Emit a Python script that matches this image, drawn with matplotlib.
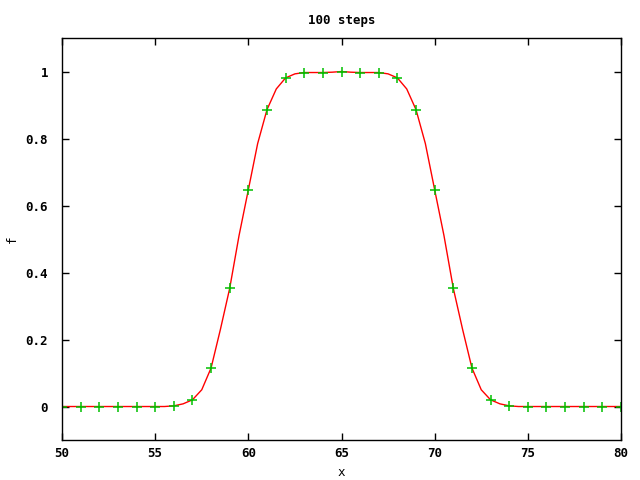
import matplotlib
matplotlib.use("Agg")
import matplotlib.pyplot as plt

# red curve at half steps
x_line = [50, 50.5, 51, 51.5, 52, 52.5, 53, 53.5, 54, 54.5, 55, 55.5,
          56, 56.5, 57, 57.5, 58, 58.5, 59, 59.5, 60, 60.5, 61, 61.5,
          62, 62.5, 63, 63.5, 64, 64.5, 65, 65.5, 66, 66.5, 67, 67.5,
          68, 68.5, 69, 69.5, 70, 70.5, 71, 71.5, 72, 72.5, 73, 73.5,
          74, 74.5, 75, 75.5, 76, 76.5, 77, 77.5, 78, 78.5, 79, 79.5, 80]
f_line = [0, 0, 0, 0, 0, 0, 0, 0, 0, 0, 0, 0,
          0.002, 0.008, 0.02, 0.05, 0.115, 0.23, 0.353, 0.51, 0.647, 0.785, 0.886, 0.948,
          0.981, 0.993, 0.997, 0.997, 0.997, 0.998, 1.0, 0.998, 0.997, 0.997, 0.997, 0.993,
          0.981, 0.948, 0.886, 0.785, 0.647, 0.51, 0.353, 0.23, 0.115, 0.05, 0.02, 0.008,
          0.002, 0, 0, 0, 0, 0, 0, 0, 0, 0, 0, 0, 0]

# green points at whole x
x_pts = list(range(50, 81))
f_pts = [0, 0, 0, 0, 0, 0, 0.002, 0.02, 0.115, 0.353, 0.647, 0.886, 0.981, 0.997, 0.997,
         1.0, 0.997, 0.997, 0.981, 0.886, 0.647, 0.353, 0.115, 0.02, 0.002, 0, 0, 0, 0, 0, 0]

x_ticks = [50, 55, 60, 65, 70, 75, 80]
y_ticks = [0, 0.2, 0.4, 0.6, 0.8, 1]
y_labels = ["0", "0.2", "0.4", "0.6", "0.8", "1"]

plt.rcParams["font.family"] = "DejaVu Sans Mono"
plt.rcParams["font.weight"] = "bold"
plt.rcParams["font.size"] = 9

fig = plt.figure(figsize=(6.4, 4.8), dpi=100)
ax = fig.add_axes([0.0969, 0.0833, 0.8734, 0.8375])

ax.plot(x_line, f_line, color="#ff0000", linewidth=1)
ax.plot(x_pts, f_pts, "+", color="#00c000", markersize=6.5, markeredgewidth=1.1)

ax.set_xlim(50, 80)
ax.set_ylim(-0.1, 1.1)
ax.set_xticks(x_ticks)
ax.set_yticks(y_ticks)
ax.set_yticklabels(y_labels)
ax.tick_params(direction="in", length=5, width=1, top=True, right=True)
ax.tick_params(axis="x", pad=5)
ax.tick_params(axis="y", pad=10)
for s in ax.spines.values():
    s.set_linewidth(1)

ax.set_title("100 steps", pad=10, fontsize=9, fontweight="bold")
ax.set_xlabel("x", va="center")
ax.set_ylabel("f", va="center")
ax.xaxis.set_label_coords(0.5, -0.08)
ax.yaxis.set_label_coords(-0.089, 0.5)

fig.savefig("out.png", dpi=100)
